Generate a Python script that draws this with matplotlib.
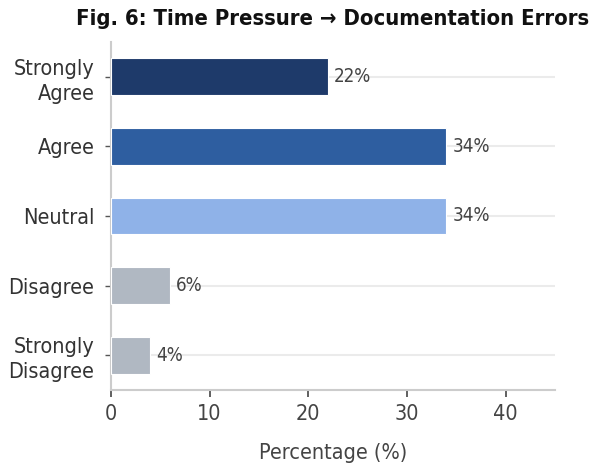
import matplotlib
matplotlib.use("Agg")
import matplotlib.pyplot as plt

categories = ["Strongly\nAgree", "Agree", "Neutral", "Disagree", "Strongly\nDisagree"]
percentages = [22, 34, 34, 6, 4]
bar_colors = ["#1e3a6a", "#2e5ea0", "#8fb2e8", "#b0b8c2", "#b0b8c2"]
x_ticks = [0, 10, 20, 30, 40]

plt.rcParams["font.family"] = ["DejaVu Sans"]
plt.rcParams["font.stretch"] = "condensed"

fig = plt.figure(figsize=(5.92, 4.65), dpi=100)
ax = fig.add_axes([0.1875, 0.1613, 0.75, 0.7484])

y_pos = list(range(len(categories)))[::-1]
ax.barh(y_pos, percentages, height=0.53, color=bar_colors,
        edgecolor="white", linewidth=0.8, zorder=3)

for y, v in zip(y_pos, percentages):
    ax.text(v + 0.6, y, f"{v}%", va="center", ha="left",
            fontsize=13.5, color="#444444", zorder=4)

ax.set_xlim(0, 45)
ax.set_ylim(-0.5, 4.5)
ax.set_yticks(y_pos)
ax.set_yticklabels(categories, fontsize=15.5, color="#333333", linespacing=1.3)
ax.set_xticks(x_ticks)
ax.tick_params(axis="x", labelsize=15.5, labelcolor="#444444", color="#444444",
               length=5, width=1.2, pad=5)
ax.tick_params(axis="y", color="#555555", length=4, width=1, pad=8)

ax.yaxis.grid(True, color="#ebebeb", linewidth=1.5, zorder=0)
ax.xaxis.grid(False)
ax.set_axisbelow(True)

for side in ["top", "right"]:
    ax.spines[side].set_visible(False)
for side in ["left", "bottom"]:
    ax.spines[side].set_color("#cccccc")
    ax.spines[side].set_linewidth(1.5)

ax.set_xlabel("Percentage (%)", fontsize=15.5, color="#444444", labelpad=14)
ax.set_title("Fig. 6: Time Pressure \u2192 Documentation Errors",
             fontsize=15.8, fontweight="bold", color="#111111", pad=12)

fig.savefig("out.png", dpi=100)
